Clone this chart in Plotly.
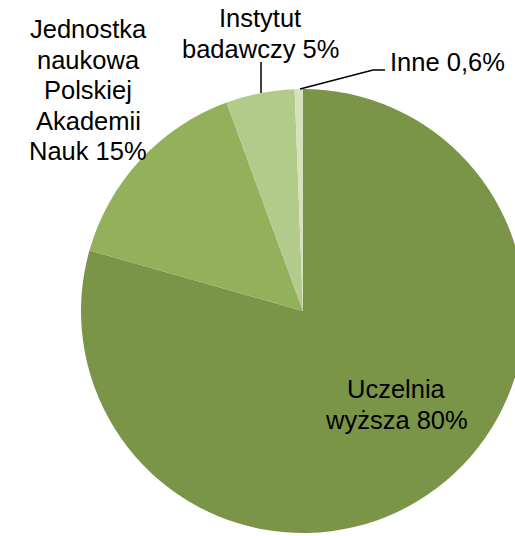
import plotly.graph_objects as go

# Data
categories = ["Uczelnia wyższa", "Jednostka naukowa Polskiej Akademii Nauk", "Instytut badawczy", "Inne"]
values = [79.4, 15.0, 5.0, 0.6]
pct_labels = ["80%", "15%", "5%", "0,6%"]
label_lines = [
    ["Uczelnia", "wyższa " + pct_labels[0]],
    ["Jednostka", "naukowa", "Polskiej", "Akademii", "Nauk " + pct_labels[1]],
    ["Instytut", "badawczy " + pct_labels[2]],
    ["Inne " + pct_labels[3]],
]
colors = ["#7B9548", "#93B15A", "#B2CA8A", "#D5E3BD"]

W, H = 530, 536


def px(x):
    return x / W


def py(y):
    return 1 - y / H


fig = go.Figure(
    go.Pie(
        labels=categories,
        values=values,
        sort=False,
        direction="clockwise",
        rotation=0,
        marker=dict(colors=colors, line=dict(width=0)),
        textinfo="none",
        hoverinfo="skip",
        showlegend=False,
        domain=dict(x=[px(81), px(525)], y=[py(533), py(89)]),
    )
)

font = dict(family="Liberation Sans, Arial, sans-serif", size=25.5, color="#000000")
# (center x, first-line y, line spacing)
label_pos = [(397, 389, 31), (88, 29, 30.6), (260, 18.5, 30), (447, 61.5, 0)]
annotations = []
for lines, (x, y0, dy) in zip(label_lines, label_pos):
    for i, text in enumerate(lines):
        annotations.append(
            dict(
                text=text,
                x=px(x),
                y=py(y0 + i * dy),
                xref="paper",
                yref="paper",
                xanchor="center",
                yanchor="middle",
                showarrow=False,
                font=font,
                align="center",
            )
        )

shapes = [
    dict(type="line", xref="paper", yref="paper", x0=px(261), y0=py(62), x1=px(261), y1=py(93),
         line=dict(color="#000000", width=1.5)),
    dict(type="path", xref="paper", yref="paper",
         path=f"M {px(385)} {py(70)} L {px(373)} {py(70)} L {px(300)} {py(89)}",
         line=dict(color="#000000", width=1.5)),
]

fig.update_layout(
    width=W,
    height=H,
    margin=dict(l=0, r=0, t=0, b=0),
    paper_bgcolor="white",
    plot_bgcolor="white",
    annotations=annotations,
    shapes=shapes,
    showlegend=False,
)

fig.write_html(
    "out.html",
    config={"displayModeBar": False},
    post_script="document.body.style.margin='0';document.body.style.overflow='hidden';",
)
